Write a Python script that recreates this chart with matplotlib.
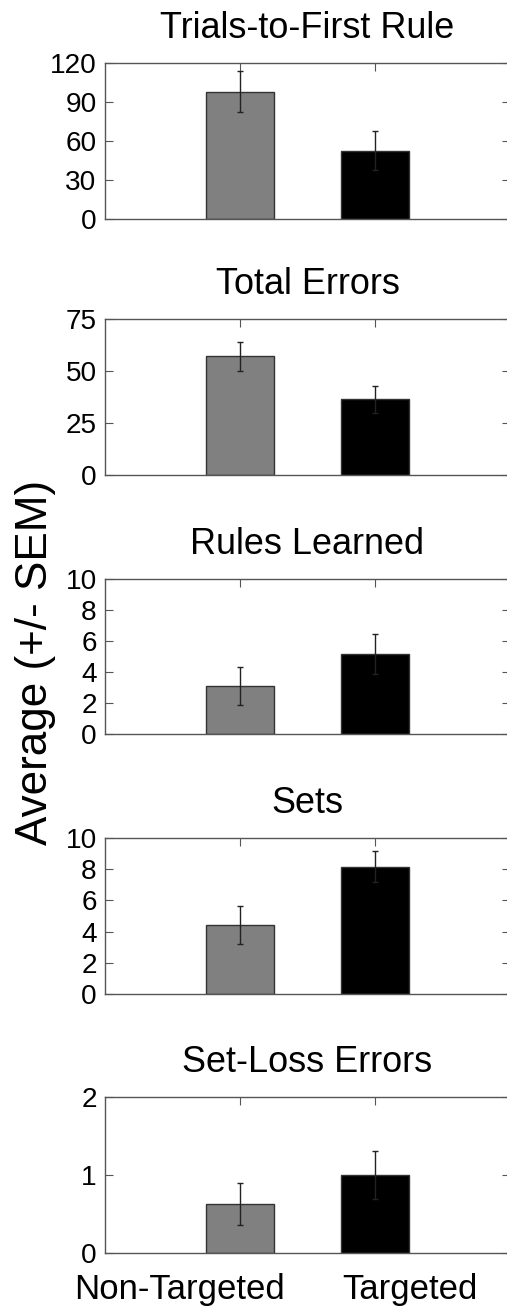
import matplotlib
matplotlib.use("Agg")
import matplotlib.pyplot as plt
from matplotlib.transforms import offset_copy

plt.rcParams["font.family"] = ["Liberation Sans", "DejaVu Sans"]

# group means and SEM per measure (Non-Targeted, Targeted)
titles = ["Trials-to-First Rule", "Total Errors", "Rules Learned", "Sets", "Set-Loss Errors"]
means = [
    [98, 52.6],
    [57, 36.3],
    [3.1, 5.15],
    [4.4, 8.15],
    [0.63, 1.0],
]
sems = [
    [15.5, 15.2],
    [6.9, 6.3],
    [1.25, 1.3],
    [1.22, 1.0],
    [0.27, 0.31],
]
yticks = [
    [0, 30, 60, 90, 120],
    [0, 25, 50, 75],
    [0, 2, 4, 6, 8, 10],
    [0, 2, 4, 6, 8, 10],
    [0, 1, 2],
]
groups = ["Non-Targeted", "Targeted"]
bar_colors = ["#808080", "#000000"]

W, H = 507, 1309
DPI = 100
# panel top / bottom edges in pixels
panel_px = [(63, 219), (319, 475), (579, 734), (838, 994), (1097, 1253)]
left_px, right_px = 105, 510
group_label_x = [0.55, 2.26]

fig = plt.figure(figsize=(W / DPI, H / DPI), dpi=DPI)

axes = []
for i, (top, bot) in enumerate(panel_px):
    ax = fig.add_axes([left_px / W, 1 - bot / H, (right_px - left_px) / W, (bot - top) / H])
    x = [1, 2]
    ax.bar(x, means[i], width=0.5, color=bar_colors, edgecolor="#333333", linewidth=1.0, zorder=2)
    ax.errorbar(x, means[i], yerr=sems[i], fmt="none", ecolor="#222222",
                elinewidth=1.0, capsize=2, capthick=1.0, zorder=3)
    ax.set_xlim(0, 3)
    ax.set_ylim(yticks[i][0], yticks[i][-1])
    ax.set_yticks(yticks[i])
    ax.set_xticks(x)
    ax.set_xticklabels([])
    ax.tick_params(direction="in", length=6, width=0.8, color="#555555",
                   top=True, right=True, labelsize=20.2, pad=6)
    for s in ax.spines.values():
        s.set_color("#555555")
        s.set_linewidth(1.0)
    # title sits a fixed pixel gap above the frame
    tr = offset_copy(ax.transAxes, fig=fig, x=0, y=25, units="dots")
    ax.text(0.5, 1.0, titles[i], transform=tr, ha="center", va="baseline", fontsize=25.9)
    axes.append(ax)

# group names under the last panel
last = axes[-1]
tr = offset_copy(last.transData, fig=fig, x=0, y=-46, units="dots")
for gx, name in zip(group_label_x, groups):
    last.text(gx, 0, name, transform=tr, ha="center", va="baseline", fontsize=25)

fig.text(36 / W, 1 - 662 / H, "Average (+/- SEM)", rotation=90,
         ha="center", va="center", fontsize=31.7)

fig.savefig("out.png", dpi=DPI)
